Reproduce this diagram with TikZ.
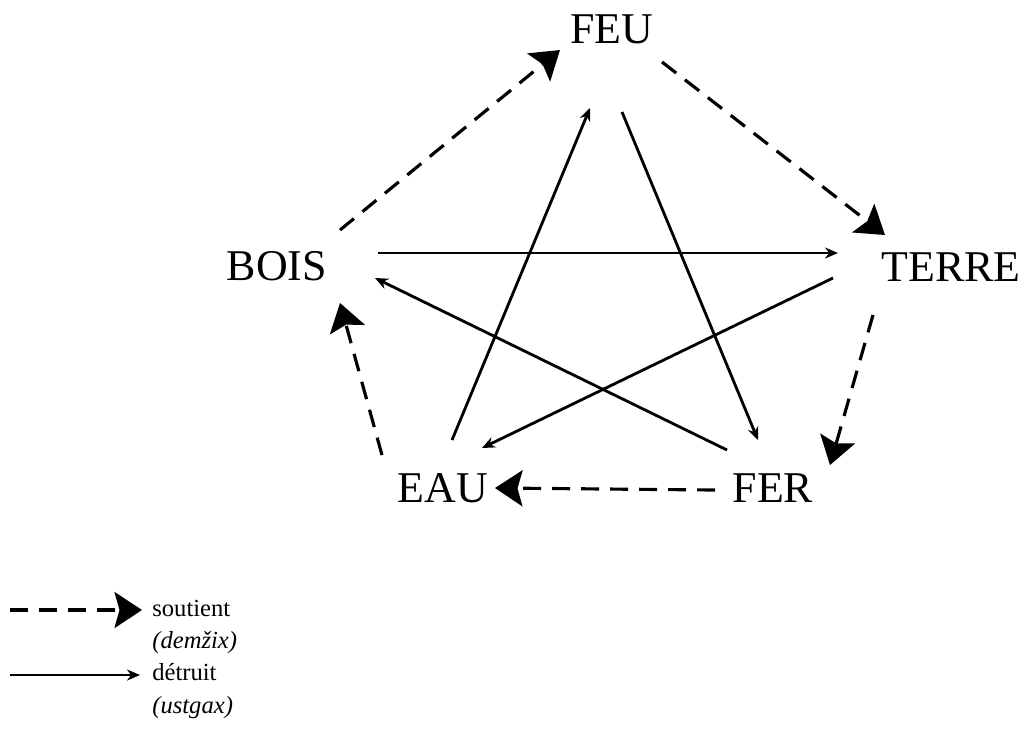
\documentclass[tikz,border=0pt]{standalone}
\usepackage{fontspec}
\setmainfont{Liberation Serif}
\usetikzlibrary{arrows.meta}

\tikzset{
  elem/.style={inner sep=0pt, font=\fontsize{25}{30}\selectfont},
  legtext/.style={inner sep=0pt, anchor=base west, font=\fontsize{14}{16}\selectfont},
  soutient/.style={line width=1.8pt, dash pattern=on 0.36cm off 0.22cm,
    -{Stealth[length=0.55cm,width=0.72cm,inset=0.1cm]}},
  detruit/.style={line width=1.6pt, -{Stealth[length=0.26cm,width=0.22cm]}}
}

\begin{document}
\begin{tikzpicture}[x=0.02cm,y=-0.02cm]
\useasboundingbox (0,0) rectangle (1025,728);
% the five elements
\node[elem] (feu) at (612,29) {FEU};
\node[elem] (terre) at (951,267) {TERRE};
\node[elem] (fer) at (773,488) {FER};
\node[elem] (eau) at (443,488) {EAU};
\node[elem] (bois) at (277,266) {BOIS};
% soutient
\draw[soutient] ([shift={(63,-36)}]bois.center)--([shift={(-52,21)}]feu.center);
\draw[soutient] ([shift={(50,33)}]feu.center)--([shift={(-66,-32)}]terre.center);
\draw[soutient] ([shift={(-78,48)}]terre.center)--([shift={(57,-23)}]fer.center);
\draw[soutient] ([shift={(-58,2)}]fer.center)--([shift={(52,0)}]eau.center);
\draw[soutient] ([shift={(-61,-33)}]eau.center)--([shift={(63,37)}]bois.center);
% detruit
\draw[detruit] ([shift={(101,-13)}]bois.center)--([shift={(-113,-14)}]terre.center);
\draw[detruit] ([shift={(-118,11)}]terre.center)--([shift={(39,-40)}]eau.center);
\draw[detruit] ([shift={(9,-48)}]eau.center)--([shift={(-22,79)}]feu.center);
\draw[detruit] ([shift={(10,83)}]feu.center)--([shift={(-15,-48)}]fer.center);
\draw[detruit] ([shift={(-46,-38)}]fer.center)--([shift={(98,12)}]bois.center);
% legend
\node[legtext] (sout) at (152,616) {soutient};
\node[legtext] (soutg) at (152,648) {\itshape (demžix)};
\node[legtext] (detr) at (152,680) {détruit};
\node[legtext] (detrg) at (152,713) {\itshape (ustgax)};
\coordinate (leg1) at (10,610);
\coordinate (leg2) at (10,675);
\draw[soutient] (leg1)--(142,610);
\draw[detruit] (leg2)--(140,675);
\end{tikzpicture}
\end{document}
